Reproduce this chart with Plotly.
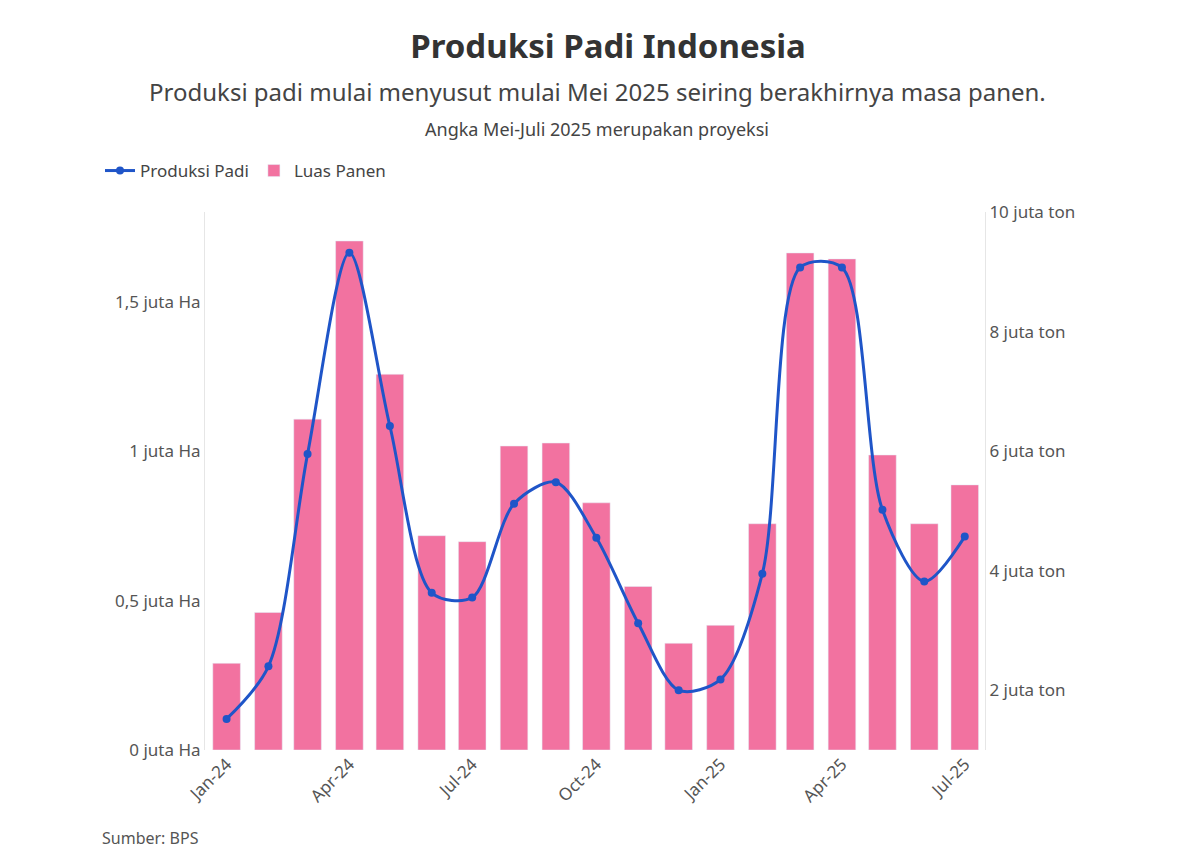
import plotly.graph_objects as go

months = ["2024-01", "2024-02", "2024-03", "2024-04", "2024-05", "2024-06", "2024-07",
          "2024-08", "2024-09", "2024-10", "2024-11", "2024-12", "2025-01", "2025-02",
          "2025-03", "2025-04", "2025-05", "2025-06", "2025-07"]
luas_panen = [0.29, 0.46, 1.107, 1.703, 1.257, 0.717, 0.697, 1.017, 1.027, 0.827,
              0.547, 0.357, 0.417, 0.757, 1.663, 1.643, 0.987, 0.757, 0.887]
produksi = [1.52, 2.40, 5.95, 9.32, 6.42, 3.63, 3.55, 5.12, 5.48, 4.55,
            3.12, 2.0, 2.18, 3.95, 9.07, 9.07, 5.02, 3.82, 4.57]

left_ticks = [0, 0.5, 1, 1.5]
left_labels = ["0 juta Ha", "0,5 juta Ha", "1 juta Ha", "1,5 juta Ha"]
right_ticks = [2, 4, 6, 8, 10]
right_labels = ["2 juta ton", "4 juta ton", "6 juta ton", "8 juta ton", "10 juta ton"]
x_ticks = ["2024-01", "2024-04", "2024-07", "2024-10", "2025-01", "2025-04", "2025-07"]
x_labels = ["Jan-24", "Apr-24", "Jul-24", "Oct-24", "Jan-25", "Apr-25", "Jul-25"]

# page body margin shifts the figure by ~8px
OFF = 8
WID, HGT = 1200, 863
# plot area in target screen pixels
TOP, BOT, LEFT, RIGHT = 212, 750, 205, 985
H = BOT - TOP
W = RIGHT - LEFT

def py(y):
    return (BOT - y) / H

def px(x):
    return (x - LEFT) / W

fig = go.Figure()
fig.add_trace(go.Scatter(
    x=months, y=produksi, name="Produksi Padi", yaxis="y2",
    mode="lines+markers",
    line=dict(color="#1f55c8", width=3, shape="spline", smoothing=0.85),
    marker=dict(size=8, color="#1f55c8")
))
fig.add_trace(go.Bar(
    x=months, y=luas_panen, name="Luas Panen", marker_color="#f272a0"
))

fig.update_layout(
    width=WID, height=HGT, autosize=False,
    plot_bgcolor="white", paper_bgcolor="white",
    font=dict(family="Noto Sans", size=17, color="#555"),
    title=dict(text="<b>Produksi Padi Indonesia</b>", x=0.5, y=1 - (46 - OFF) / HGT,
               xanchor="center", yanchor="middle",
               font=dict(size=33, color="#333", family="Noto Sans")),
    margin=dict(l=LEFT - OFF, r=WID - RIGHT + OFF, t=TOP - OFF, b=HGT - BOT + OFF),
    bargap=0.27,
    legend=dict(orientation="h", x=px(100), y=py(171), xanchor="left", yanchor="middle",
                font=dict(size=17, color="#444"), traceorder="normal",
                tracegroupgap=0),
    xaxis=dict(type="date", tickvals=x_ticks, ticktext=x_labels, tickangle=-45,
               showgrid=False, range=["2023-12-16", "2025-07-16"], ticks="",
               tickfont=dict(size=17)),
    yaxis=dict(range=[0, 1.8], tickvals=left_ticks, ticktext=left_labels,
               showgrid=False, zeroline=False, showline=True, linecolor="#e6e6e6",
               ticks=""),
    yaxis2=dict(range=[1, 10], tickvals=right_ticks, ticktext=right_labels,
                overlaying="y", side="right", showgrid=False, showline=True,
                linecolor="#e6e6e6", ticks=""),
)
fig.add_annotation(text="Produksi padi mulai menyusut mulai Mei 2025 seiring berakhirnya masa panen.",
                   x=px(597), y=py(92), xref="paper", yref="paper", showarrow=False,
                   yanchor="middle", font=dict(size=24, color="#444"))
fig.add_annotation(text="Angka Mei-Juli 2025 merupakan proyeksi",
                   x=px(597), y=py(129), xref="paper", yref="paper", showarrow=False,
                   yanchor="middle", font=dict(size=18, color="#444"))
fig.add_annotation(text="Sumber: BPS", x=px(100), y=py(838), xref="paper", yref="paper",
                   xanchor="left", yanchor="middle", showarrow=False,
                   font=dict(size=16, color="#555"))

fig.write_html("out.html")
